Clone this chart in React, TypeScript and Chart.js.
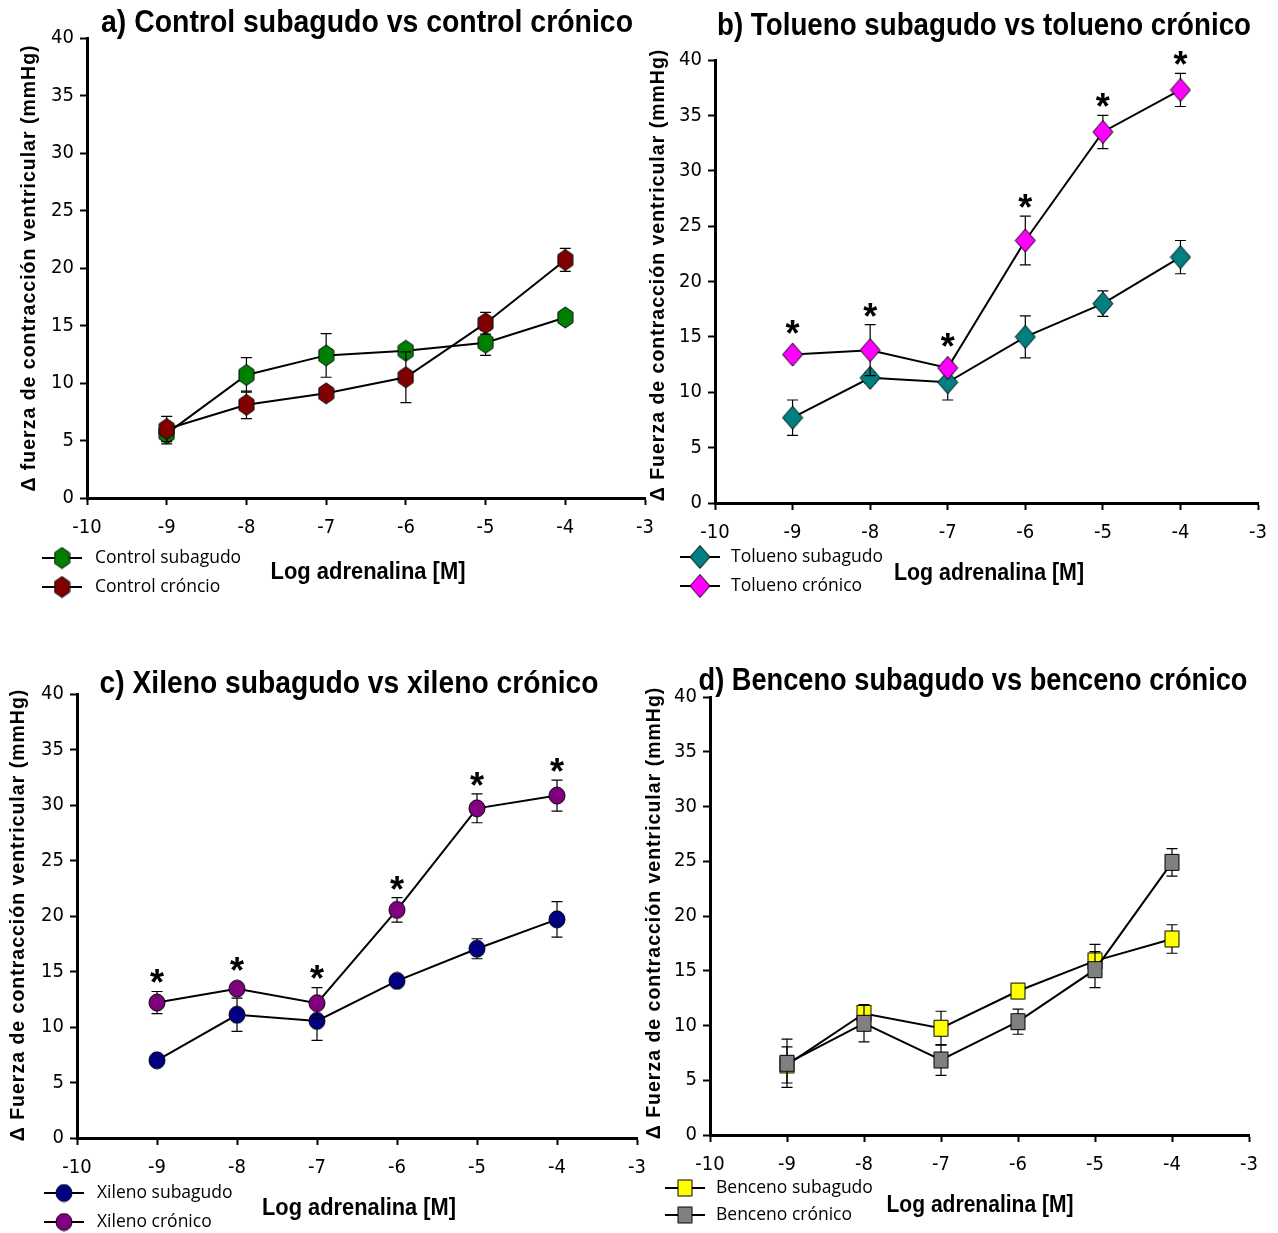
import React, { useEffect, useRef } from "react";
import { Chart, registerables } from "chart.js";
Chart.register(...registerables);

// ---------- data ----------
const doses = [-9, -8, -7, -6, -5, -4];
const xTickValues = [-10, -9, -8, -7, -6, -5, -4, -3];
const yTickValues = [0, 5, 10, 15, 20, 25, 30, 35, 40];

// a) Control
const controlSubagudo = [5.6, 10.7, 12.4, 12.8, 13.5, 15.7];
const controlSubagudoErr = [0.9, 1.5, 1.9, 0.3, 1.1, 0.5];
const controlCronico = [6.0, 8.1, 9.1, 10.5, 15.2, 20.7];
const controlCronicoErr = [1.1, 1.2, 0.5, 2.2, 0.95, 1.0];
const controlSig = [false, false, false, false, false, false];

// b) Tolueno
const toluenoSubagudo = [7.7, 11.3, 10.9, 15.0, 18.0, 22.2];
const toluenoSubagudoErr = [1.6, 0.5, 1.6, 1.9, 1.15, 1.5];
const toluenoCronico = [13.4, 13.8, 12.2, 23.7, 33.5, 37.3];
const toluenoCronicoErr = [0.4, 2.3, 0.5, 2.2, 1.5, 1.5];
const toluenoSig = [true, true, true, true, true, true];

// c) Xileno
const xilenoSubagudo = [7.0, 11.1, 10.55, 14.15, 17.05, 19.7];
const xilenoSubagudoErr = [0.3, 1.5, 1.75, 0.3, 0.9, 1.6];
const xilenoCronico = [12.2, 13.45, 12.15, 20.55, 29.7, 30.85];
const xilenoCronicoErr = [1.0, 0.5, 1.4, 1.1, 1.3, 1.4];
const xilenoSig = [true, true, true, true, true, true];

// d) Benceno
const bencenoSubagudo = [6.4, 11.1, 9.75, 13.15, 15.9, 17.9];
const bencenoSubagudoErr = [1.65, 0.5, 1.55, 0.3, 1.5, 1.3];
const bencenoCronico = [6.55, 10.2, 6.85, 10.35, 15.1, 24.9];
const bencenoCronicoErr = [2.2, 1.7, 1.4, 1.15, 1.65, 1.25];
const bencenoSig = [false, false, false, false, false, false];

// ---------- styling ----------
const NARROW = "'Liberation Sans Narrow', 'Arial Narrow', 'DejaVu Sans Condensed', sans-serif";
const ARIAL = "'Liberation Sans', Arial, sans-serif";
const LEGEND_FONT = "'Open Sans', 'Noto Sans', sans-serif";
const X_TITLE = "Log adrenalina [M]";

type Shape = "hex" | "diamond" | "circle" | "square";
type Series = { label: string; values: number[]; errors: number[]; shape: Shape; color: string; w: number; h: number };
type Panel = {
  key: string;
  box: { left: number; top: number; width: number; height: number };
  area: { l: number; t: number; r: number; b: number };
  title: string; titleX: number; titleY: number; titleW: number;
  yTitle: string; yTitleX: number; yTitleY: number;
  xTitleX: number; xTitleY: number; xTitleW: number;
  legMarkerX: number; legLine: [number, number]; legTextX: number; legRows: [number, number];
  series: Series[];
  sig: boolean[];
};

const panels: Panel[] = [
  {
    key: "a",
    box: { left: 0, top: 0, width: 665, height: 615 },
    area: { l: 87, t: 38, r: 647, b: 498 },
    title: "a) Control subagudo vs control crónico", titleX: 367, titleY: 23, titleW: 532,
    yTitle: "Δ fuerza de contracción ventricular (mmHg)", yTitleX: 30, yTitleY: 268,
    xTitleX: 368, xTitleY: 572, xTitleW: 195,
    legMarkerX: 62, legLine: [42, 82], legTextX: 95, legRows: [558, 587],
    series: [
      { label: "Control subagudo", values: controlSubagudo, errors: controlSubagudoErr, shape: "hex", color: "#008000", w: 15, h: 21 },
      { label: "Control cróncio", values: controlCronico, errors: controlCronicoErr, shape: "hex", color: "#800000", w: 15, h: 21 },
    ],
    sig: controlSig,
  },
  {
    key: "b",
    box: { left: 630, top: 0, width: 648, height: 615 },
    area: { l: 715, t: 60, r: 1260, b: 503 },
    title: "b) Tolueno subagudo vs tolueno crónico", titleX: 984, titleY: 26, titleW: 534,
    yTitle: "Δ Fuerza de contracción ventricular (mmHg)", yTitleX: 659, yTitleY: 275,
    xTitleX: 989, xTitleY: 573, xTitleW: 190,
    legMarkerX: 700, legLine: [680, 720], legTextX: 731, legRows: [557, 586],
    series: [
      { label: "Tolueno subagudo", values: toluenoSubagudo, errors: toluenoSubagudoErr, shape: "diamond", color: "#008080", w: 20, h: 23 },
      { label: "Tolueno crónico", values: toluenoCronico, errors: toluenoCronicoErr, shape: "diamond", color: "#ff00ff", w: 20, h: 23 },
    ],
    sig: toluenoSig,
  },
  {
    key: "c",
    box: { left: 0, top: 620, width: 660, height: 613 },
    area: { l: 77, t: 694, r: 637, b: 1138 },
    title: "c) Xileno subagudo vs xileno crónico", titleX: 349, titleY: 684, titleW: 499,
    yTitle: "Δ Fuerza de contracción ventricular (mmHg)", yTitleX: 19, yTitleY: 915,
    xTitleX: 359, xTitleY: 1208, xTitleW: 194,
    legMarkerX: 64, legLine: [44, 84], legTextX: 97, legRows: [1193, 1222],
    series: [
      { label: "Xileno subagudo", values: xilenoSubagudo, errors: xilenoSubagudoErr, shape: "circle", color: "#000080", w: 16, h: 17 },
      { label: "Xileno crónico", values: xilenoCronico, errors: xilenoCronicoErr, shape: "circle", color: "#800080", w: 16, h: 17 },
    ],
    sig: xilenoSig,
  },
  {
    key: "d",
    box: { left: 630, top: 620, width: 648, height: 613 },
    area: { l: 710, t: 697, r: 1249, b: 1135 },
    title: "d) Benceno subagudo vs benceno crónico", titleX: 973, titleY: 681, titleW: 549,
    yTitle: "Δ Fuerza de contracción ventricular (mmHg)", yTitleX: 655, yTitleY: 913,
    xTitleX: 980, xTitleY: 1205, xTitleW: 187,
    legMarkerX: 685, legLine: [665, 705], legTextX: 716, legRows: [1188, 1215],
    series: [
      { label: "Benceno subagudo", values: bencenoSubagudo, errors: bencenoSubagudoErr, shape: "square", color: "#ffff00", w: 15, h: 17 },
      { label: "Benceno crónico", values: bencenoCronico, errors: bencenoCronicoErr, shape: "square", color: "#808080", w: 15, h: 17 },
    ],
    sig: bencenoSig,
  },
];

function makeMarker(shape: Shape, fill: string, w: number, h: number): HTMLCanvasElement {
  const c = document.createElement("canvas");
  c.width = w + 2;
  c.height = h + 2;
  const ctx = c.getContext("2d")!;
  const l = 1, t = 1, r = w + 1, b = h + 1;
  const cx = (l + r) / 2, cy = (t + b) / 2;
  ctx.beginPath();
  if (shape === "hex") {
    const q = h / 4;
    ctx.moveTo(cx, t);
    ctx.lineTo(r, t + q);
    ctx.lineTo(r, b - q);
    ctx.lineTo(cx, b);
    ctx.lineTo(l, b - q);
    ctx.lineTo(l, t + q);
    ctx.closePath();
  } else if (shape === "diamond") {
    ctx.moveTo(cx, t);
    ctx.lineTo(r, cy);
    ctx.lineTo(cx, b);
    ctx.lineTo(l, cy);
    ctx.closePath();
  } else if (shape === "circle") {
    ctx.ellipse(cx, cy, w / 2, h / 2, 0, 0, Math.PI * 2);
  } else {
    ctx.rect(l + 0.5, t + 0.5, w - 1, h - 1);
  }
  ctx.fillStyle = fill;
  ctx.fill();
  ctx.lineWidth = 1;
  ctx.strokeStyle = "#000";
  ctx.stroke();
  return c;
}

// draws bold text horizontally condensed so that it spans the given width (narrow-face look)
function drawFitted(ctx: CanvasRenderingContext2D, text: string, x: number, y: number, font: string, width: number) {
  ctx.save();
  ctx.font = font;
  const natural = ctx.measureText(text).width || 1;
  ctx.translate(x, y);
  ctx.scale(width / natural, 1);
  ctx.textAlign = "center";
  ctx.textBaseline = "middle";
  ctx.fillText(text, 0, 0);
  ctx.restore();
}

const Y_W = 40;
const X_H = 40;

function PanelChart({ panel }: { panel: Panel }) {
  const ref = useRef<HTMLCanvasElement | null>(null);
  useEffect(() => {
    const cv = ref.current;
    if (!cv) return;
    const { box, area } = panel;
    const markers = panel.series.map((s) => makeMarker(s.shape, s.color, s.w, s.h));
    const n = panel.series.length;

    const decor = {
      id: "decor" + panel.key,
      beforeDatasetDraw(chart: any, args: any) {
        const s = panel.series[args.index];
        const meta = chart.getDatasetMeta(args.index);
        const ys = chart.scales.y;
        const ctx = chart.ctx;
        ctx.save();
        ctx.strokeStyle = "#000";
        ctx.lineWidth = 1.2;
        meta.data.forEach((pt: any, j: number) => {
          const x = pt.x;
          const top = ys.getPixelForValue(s.values[j] + s.errors[j]);
          const bot = ys.getPixelForValue(s.values[j] - s.errors[j]);
          ctx.beginPath();
          ctx.moveTo(x, top);
          ctx.lineTo(x, bot);
          ctx.moveTo(x - 5.5, top);
          ctx.lineTo(x + 5.5, top);
          ctx.moveTo(x - 5.5, bot);
          ctx.lineTo(x + 5.5, bot);
          ctx.stroke();
        });
        ctx.restore();
      },
      afterDraw(chart: any) {
        const ctx = chart.ctx as CanvasRenderingContext2D;
        const ox = box.left, oy = box.top;
        ctx.save();
        ctx.fillStyle = "#000";
        // title
        drawFitted(ctx, panel.title, panel.titleX - ox, panel.titleY - oy, `bold 31px ${ARIAL}`, panel.titleW);
        // x title
        drawFitted(ctx, X_TITLE, panel.xTitleX - ox, panel.xTitleY - oy, `bold 24px ${ARIAL}`, panel.xTitleW);
        // y title
        ctx.save();
        ctx.translate(panel.yTitleX - ox, panel.yTitleY - oy);
        ctx.rotate(-Math.PI / 2);
        ctx.font = `bold 19.5px ${ARIAL}`;
        (ctx as any).letterSpacing = "1px";
        ctx.textAlign = "center";
        ctx.textBaseline = "middle";
        ctx.fillText(panel.yTitle, 0, 0);
        ctx.restore();
        // legend
        panel.series.forEach((s, i) => {
          const y = panel.legRows[i] - oy;
          ctx.strokeStyle = "#000";
          ctx.lineWidth = 2;
          ctx.beginPath();
          ctx.moveTo(panel.legLine[0] - ox, y);
          ctx.lineTo(panel.legLine[1] - ox, y);
          ctx.stroke();
          const m = markers[i];
          ctx.drawImage(m, panel.legMarkerX - ox - m.width / 2, y - m.height / 2);
          ctx.font = `17.5px ${LEGEND_FONT}`;
          ctx.textAlign = "left";
          ctx.textBaseline = "middle";
          ctx.fillText(s.label, panel.legTextX - ox, y);
        });
        // significance asterisks over the chronic series
        const ys = chart.scales.y;
        const xs = chart.scales.x;
        const chronic = panel.series[n - 1];
        const size = 36;
        ctx.font = `bold ${size}px ${ARIAL}`;
        ctx.textAlign = "center";
        ctx.textBaseline = "alphabetic";
        panel.sig.forEach((flag, j) => {
          if (!flag) return;
          const v = chronic.values[j];
          const e = chronic.errors[j];
          const yTop = Math.min(ys.getPixelForValue(v + e), ys.getPixelForValue(v) - chronic.h / 2 - 1);
          const cy = yTop - 17;
          ctx.fillText("*", xs.getPixelForValue(doses[j]), cy + 0.58 * size);
        });
        ctx.restore();
      },
    };

    const chart = new Chart(cv, {
      type: "line",
      data: {
        datasets: panel.series.map((s, i) => ({
          label: s.label,
          data: doses.map((x, j) => ({ x, y: s.values[j] })),
          borderColor: "#000",
          borderWidth: 2,
          pointStyle: markers[i] as any,
          pointRadius: 8,
          pointHoverRadius: 8,
          fill: false,
          tension: 0,
          order: n - i,
        })),
      },
      options: {
        responsive: false,
        animation: false,
        devicePixelRatio: 1,
        events: [],
        layout: {
          padding: {
            left: area.l - box.left - Y_W,
            top: area.t - box.top,
            right: box.left + box.width - area.r,
            bottom: box.top + box.height - area.b - X_H,
          },
        },
        plugins: {
          legend: { display: false },
          tooltip: { enabled: false },
          title: { display: false },
        },
        scales: {
          x: {
            type: "linear",
            min: -10,
            max: -3,
            afterFit: (s: any) => { s.height = X_H; },
            afterBuildTicks: (s: any) => { s.ticks = xTickValues.map((v) => ({ value: v })); },
            ticks: { color: "#000", font: { family: NARROW, size: 20 }, padding: 11, maxRotation: 0, autoSkip: false },
            grid: { display: true, drawOnChartArea: false, drawTicks: true, tickLength: 7, tickColor: "#000", tickWidth: 2 },
            border: { display: true, color: "#000", width: 3 },
          },
          y: {
            type: "linear",
            min: 0,
            max: 40,
            afterFit: (s: any) => { s.width = Y_W; },
            afterBuildTicks: (s: any) => { s.ticks = yTickValues.map((v) => ({ value: v })); },
            ticks: { color: "#000", font: { family: NARROW, size: 20 }, padding: 6, autoSkip: false },
            grid: { display: true, drawOnChartArea: false, drawTicks: true, tickLength: 7, tickColor: "#000", tickWidth: 2 },
            border: { display: true, color: "#000", width: 3 },
          },
        },
      } as any,
      plugins: [decor],
    });
    return () => chart.destroy();
  }, [panel]);
  const { box } = panel;
  return (
    <canvas
      ref={ref}
      width={box.width}
      height={box.height}
      style={{ position: "absolute", left: box.left, top: box.top, width: box.width, height: box.height }}
    />
  );
}

export default function App() {
  return (
    <div style={{ position: "absolute", left: 0, top: 0, width: 1278, height: 1233, background: "#fff", overflow: "hidden" }}>
      {panels.map((p) => (
        <PanelChart key={p.key} panel={p} />
      ))}
    </div>
  );
}
